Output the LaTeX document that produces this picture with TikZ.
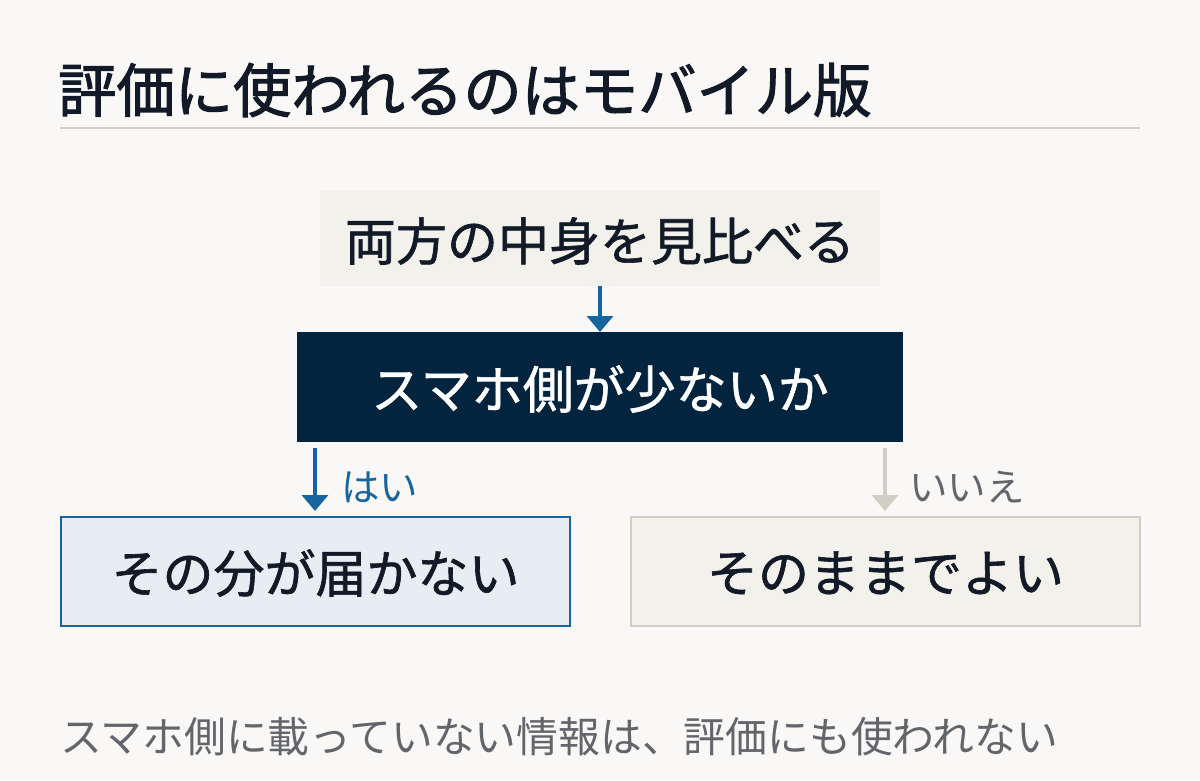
\documentclass[tikz,border=0pt]{standalone}
\usepackage{fontspec}
\newfontfamily\jp{Noto Sans CJK JP}
\newfontfamily\jpm[FakeBold=1.2]{Noto Sans CJK JP}
\newfontfamily\jpt[FakeBold=1.8]{Noto Sans CJK JP}
\usetikzlibrary{arrows.meta}
\definecolor{bg}{HTML}{F9F8F6}
\definecolor{ink}{HTML}{111A26}
\definecolor{navy}{HTML}{02243F}
\definecolor{blueA}{HTML}{17659E}
\definecolor{paleblue}{HTML}{E7EDF2}
\definecolor{beige}{HTML}{F2F1EB}
\definecolor{rulec}{HTML}{D0CFC4}
\definecolor{greyt}{HTML}{62656A}
\tikzset{
  x=1pt,y=-1pt,
  boxtext/.style={font=\jpm\fontsize{51}{56}\selectfont, text=ink, inner sep=0pt, anchor=center},
  flowarrow/.style={line width=3.5pt, -{Triangle[width=26pt,length=16pt]}},
  lbl/.style={anchor=west, inner sep=0pt, font=\jp\fontsize{38.5}{42}\selectfont},
}
\begin{document}
\begin{tikzpicture}
\useasboundingbox (0,0) rectangle (1200,780);
\fill[bg] (0,0) rectangle (1200,780);
% title
\node[anchor=west, inner sep=0pt, text=ink, font=\jpt\fontsize{58.3}{62}\selectfont] (title) at (58,90) {評価に使われるのはモバイル版};
\draw[rulec, line width=2pt] (60,128) coordinate (r1) -- (1140,128) coordinate (r2);
% top box
\fill[beige] (320,190) rectangle (880,286);
\node[boxtext] (top) at (600,241) {両方の中身を見比べる};
\coordinate (topS) at (600,286);
% question
\fill[navy] (297,332) rectangle (903,442);
\node[boxtext, text=white] (q) at (600,389) {スマホ側が少ないか};
\coordinate (qN) at (600,332);
\draw[flowarrow, blueA] (topS) -- (qN);
% yes
\filldraw[fill=paleblue, draw=blueA, line width=1.5pt] (61,517) rectangle (570,626);
\node[boxtext] (yes) at (315.5,573) {その分が届かない};
\coordinate (yS) at (315,448);
\coordinate (yE) at (315,511);
\draw[flowarrow, blueA] (yS) -- (yE);
\node[lbl, text=blueA] (hai) at (341,487) {はい};
% no
\filldraw[fill=beige, draw=rulec, line width=1.5pt] (631,517) rectangle (1140,626);
\node[boxtext] (no) at (885.5,573) {そのままでよい};
\coordinate (nS) at (885,448);
\coordinate (nE) at (885,511);
\draw[flowarrow, rulec] (nS) -- (nE);
\node[lbl, text=greyt] (iie) at (909,487) {いいえ};
% footer
\node[anchor=west, inner sep=0pt, text=greyt, font=\jp\fontsize{41.8}{46}\selectfont] (foot) at (60,737) {スマホ側に載っていない情報は、評価にも使われない};
\end{tikzpicture}
\end{document}
